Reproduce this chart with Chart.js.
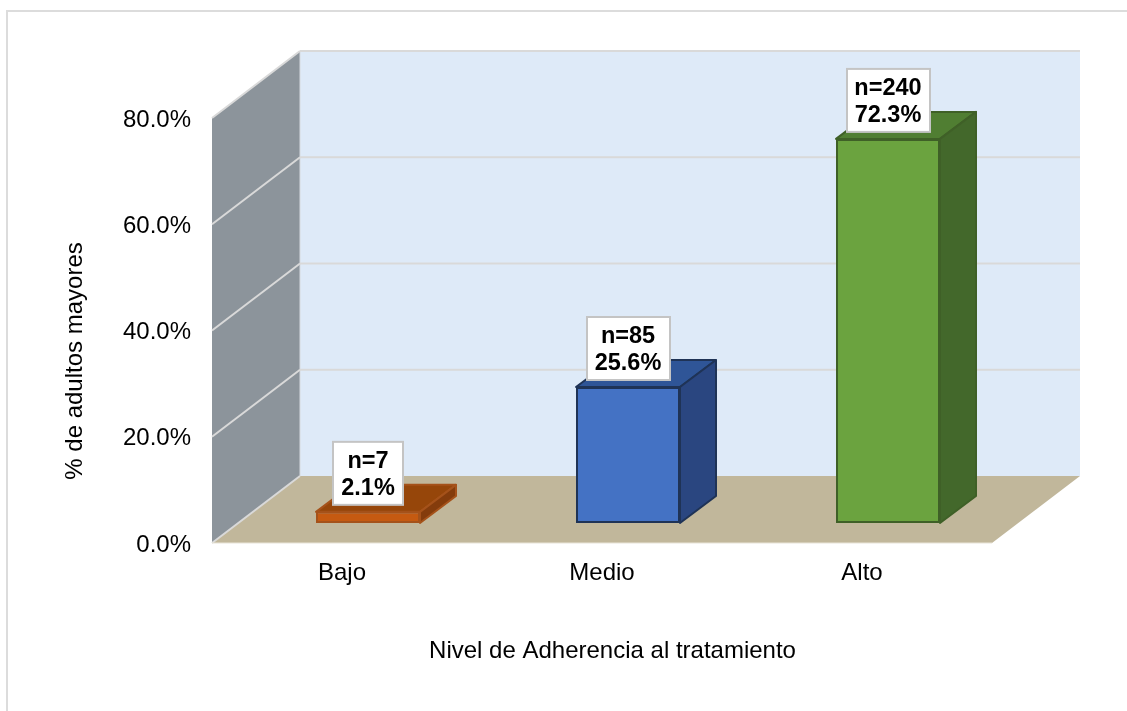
<!DOCTYPE html>
<html lang="es">
<head>
<meta charset="utf-8">
<title>Nivel de Adherencia al tratamiento</title>
<script src="https://cdn.jsdelivr.net/npm/chart.js@4/dist/chart.umd.min.js"></script>
<style>
  html, body { margin: 0; padding: 0; background: #fff; width: 1127px; height: 711px; overflow: hidden; }
  canvas { display: block; }
</style>
</head>
<body>
<canvas id="chart" width="1127" height="711"></canvas>
<script>
// Adherence levels and their share of older adults
const categories = ['Bajo', 'Medio', 'Alto'];
const percentages = [2.1, 25.6, 72.3];
const counts = [7, 85, 240];
const yTicks = [0, 20, 40, 60, 80];
const xTitle = 'Nivel de Adherencia al tratamiento';
const yTitle = '% de adultos mayores';

// Face colours of each box: front, top, side, outline
const frontColors = ['#c55a11', '#4472c4', '#6ba33f'];
const topColors = ['#96460a', '#2f5597', '#507e32'];
const sideColors = ['#843c0c', '#2a4680', '#43682b'];
const edgeColors = ['#a5521a', '#1f3356', '#3f6027'];

// Oblique projection used for the room and the boxes
const room = { dx: 88, dy: 67 };
const barShift = { dx: 26, dy: 20 };
const barDepth = { dx: 36, dy: 27 };
const fontFamily = '"Liberation Sans", Arial, sans-serif';

function fillPoly(ctx, pts, fill) {
  ctx.beginPath();
  pts.forEach((p, i) => (i ? ctx.lineTo(p[0], p[1]) : ctx.moveTo(p[0], p[1])));
  ctx.closePath();
  ctx.fillStyle = fill;
  ctx.fill();
}

function strokeLine(ctx, x1, y1, x2, y2, color, width) {
  ctx.beginPath();
  ctx.moveTo(x1, y1);
  ctx.lineTo(x2, y2);
  ctx.strokeStyle = color;
  ctx.lineWidth = width;
  ctx.stroke();
}

const scene3d = {
  id: 'scene3d',

  // Digits sit optically high on their tick, so nudge the y labels down
  afterLayout(chart) {
    chart.scales.y.getLabelItems().forEach(item => { item.options.translation[1] += 2; });
  },

  // Outer frame, walls, floor and gridlines
  beforeDraw(chart) {
    const { ctx, chartArea: a, scales: { y } } = chart;
    ctx.save();
    strokeLine(ctx, 7, 711, 7, 11, '#dcdcdc', 2);
    strokeLine(ctx, 6, 11, 1127, 11, '#dcdcdc', 2);

    const top = y.getPixelForValue(80);
    const base = y.getPixelForValue(0);
    fillPoly(ctx, [[a.left + room.dx, top - room.dy], [a.right + room.dx, top - room.dy],
                   [a.right + room.dx, base - room.dy], [a.left + room.dx, base - room.dy]], '#deeaf8');
    fillPoly(ctx, [[a.left, base], [a.left + room.dx, base - room.dy],
                   [a.left + room.dx, top - room.dy], [a.left, top]], '#8c949b');
    strokeLine(ctx, a.left + room.dx, top - room.dy, a.left + room.dx, base - room.dy, '#d5d9de', 1);
    fillPoly(ctx, [[a.left, base], [a.right, base],
                   [a.right + room.dx, base - room.dy], [a.left + room.dx, base - room.dy]], '#c1b79b');

    yTicks.forEach(v => {
      const py = y.getPixelForValue(v);
      strokeLine(ctx, a.left, py, a.left + room.dx, py - room.dy, '#d9d9d9', 2);
      if (v > 0) {
        strokeLine(ctx, a.left + room.dx, py - room.dy, a.right + room.dx, py - room.dy, '#d9d9d9', 2);
      }
    });
    strokeLine(ctx, a.left, base, a.right, base, '#e8e4d8', 1);
    ctx.restore();
  },

  // Top and side faces of each box; the library paints the front face over them
  beforeDatasetsDraw(chart) {
    const { ctx } = chart;
    ctx.save();
    ctx.translate(barShift.dx, -barShift.dy);
    chart.getDatasetMeta(0).data.forEach((bar, i) => {
      const left = bar.x - bar.width / 2;
      const right = bar.x + bar.width / 2;
      const topY = bar.y;
      const baseY = bar.base;
      const d = barDepth;
      const topFace = [[left, topY], [right, topY], [right + d.dx, topY - d.dy], [left + d.dx, topY - d.dy]];
      const sideFace = [[right, topY], [right + d.dx, topY - d.dy], [right + d.dx, baseY - d.dy], [right, baseY]];
      [[topFace, topColors[i]], [sideFace, sideColors[i]]].forEach(([pts, fill]) => {
        fillPoly(ctx, pts, fill);
        ctx.strokeStyle = edgeColors[i];
        ctx.lineWidth = 2;
        ctx.lineJoin = 'round';
        ctx.stroke();
      });
    });
  },

  afterDatasetsDraw(chart) {
    const { ctx } = chart;
    ctx.restore();

    // Value boxes sitting above the front face of each bar
    ctx.save();
    ctx.font = 'bold 23.5px ' + fontFamily;
    ctx.textAlign = 'center';
    ctx.textBaseline = 'middle';
    chart.getDatasetMeta(0).data.forEach((bar, i) => {
      const lines = ['n=' + counts[i], percentages[i].toFixed(1) + '%'];
      const textWidth = Math.max(...lines.map(t => ctx.measureText(t).width));
      const w = Math.round(textWidth + 16);
      const h = 63;
      const cx = bar.x + barShift.dx;
      const bottom = bar.y - barShift.dy - 7;
      const x = Math.round(cx - w / 2);
      const yTop = bottom - h;
      ctx.fillStyle = '#ffffff';
      ctx.fillRect(x, yTop, w, h);
      ctx.strokeStyle = '#c4c4c4';
      ctx.lineWidth = 2;
      ctx.strokeRect(x, yTop, w, h);
      ctx.fillStyle = '#000000';
      ctx.fillText(lines[0], cx, yTop + 19.5);
      ctx.fillText(lines[1], cx, yTop + 47);
    });
    ctx.restore();
  },

  // Axis captions
  afterDraw(chart) {
    const { ctx } = chart;
    ctx.save();
    ctx.font = '24px ' + fontFamily;
    ctx.fillStyle = '#000000';
    ctx.textAlign = 'center';
    ctx.textBaseline = 'middle';
    ctx.fillText(xTitle, 612.5, 651);
    ctx.translate(75, 361);
    ctx.rotate(-Math.PI / 2);
    ctx.fillText(yTitle, 0, 0);
    ctx.restore();
  }
};

new Chart(document.getElementById('chart'), {
  type: 'bar',
  data: {
    labels: categories,
    datasets: [{
      data: percentages,
      backgroundColor: frontColors,
      borderColor: edgeColors,
      borderWidth: 2,
      borderSkipped: false,
      barPercentage: 0.4,
      categoryPercentage: 1
    }]
  },
  options: {
    responsive: false,
    animation: false,
    layout: { padding: { top: 118, right: 135, left: 0, bottom: 0 } },
    plugins: {
      legend: { display: false },
      tooltip: { enabled: false }
    },
    scales: {
      x: {
        afterFit(scale) { scale.height = 168; },
        grid: { display: false, drawTicks: false },
        border: { display: false },
        ticks: { color: '#000000', padding: 16, maxRotation: 0, font: { family: fontFamily, size: 24 } }
      },
      y: {
        min: 0,
        max: 80,
        afterFit(scale) { scale.width = 212; },
        afterBuildTicks(scale) { scale.ticks = yTicks.map(value => ({ value })); },
        grid: { display: false, drawTicks: false },
        border: { display: false },
        ticks: {
          color: '#000000',
          padding: 21,
          font: { family: fontFamily, size: 24 },
          callback: value => value.toFixed(1) + '%'
        }
      }
    }
  },
  plugins: [scene3d]
});
</script>
</body>
</html>
